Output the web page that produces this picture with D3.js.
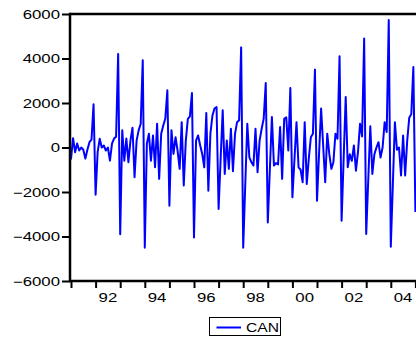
<!DOCTYPE html>
<html>
<head>
<meta charset="utf-8">
<script src="https://cdn.jsdelivr.net/npm/d3@7/dist/d3.min.js"></script>
<style>
  html, body { margin: 0; padding: 0; background: #ffffff; }
  svg { display: block; }
  text { font-family: "Liberation Sans", Arial, sans-serif; fill: #000; }
</style>
</head>
<body>
<div id="chart"></div>
<script>
// ---- data ----
const seriesName = "CAN";
const startYear = 1991; // monthly, starting 1991M01
const canValues = [
  // 1991
  -540, 420, -210, 180, -135, 0, -100, -500, -100, 240, 350, 1940,
  // 1992
  -2120, -210, 390, 0, 90, -135, 0, -590, 170, 400, 480, 4200,
  // 1993
  -3900, 770, -590, 400, -660, 310, 890, -1340, 310, 770, 1070, 3920,
  // 1994
  -4500, 170, 620, -590, 540, -890, 1070, -1410, 620, 990, 1290, 2570,
  // 1995
  -2620, 770, -290, 460, -150, -960, 1140, -1710, 300, 1290, 1400, 2450,
  // 1996
  -4040, 310, 540, 100, -290, -890, 1550, -1940, 620, 1440, 1750, 1820,
  // 1997
  -2760, -500, 1670, -1190, 310, -960, 840, -1070, 600, 1140, 1220, 4500,
  // 1998
  -4500, -1700, 1070, -440, -660, -810, 840, -1110, 310, 840, 1300, 2900,
  // 1999
  -3370, -1000, 1370, -810, -700, -760, 920, -1410, 1290, 1360, -135, 2670,
  // 2000
  -2240, -550, 1140, -890, -1000, -1560, 1140, -1640, -500, 460, 620, 3500,
  // 2001
  -2390, -300, 1750, 100, -1560, 620, -290, -960, -660, 620, 390, 4100,
  // 2002
  -3290, -500, 2270, -890, -300, -600, 90, -1040, -200, 1070, 500, 4900,
  // 2003
  -3890, -1470, 950, -1190, -300, 0, 240, -450, 0, 1140, 700, 5730,
  // 2004
  -4460, -1660, 1140, -100, 0, -1260, 540, -1260, 300, 1340, 1500, 3620,
  // 2005
  -2900
];
const yTicks = [-6000, -4000, -2000, 0, 2000, 4000, 6000];
const xTickYears = d3.range(1991, 2007);
const xLabelYears = [1992, 1994, 1996, 1998, 2000, 2002, 2004];
const xLabels = ["92", "94", "96", "98", "00", "02", "04"];

// ---- layout ----
const W = 416, H = 344;
const mLeft = 70, mTop = 14, mBottom = 281;
const yearPx = 24.6;
const stretch = 1.4;

const svg = d3.select("#chart").append("svg")
  .attr("width", W).attr("height", H);
svg.append("rect").attr("width", W).attr("height", H).attr("fill", "#fff");

const x = d3.scaleLinear().domain([startYear, startYear + 15])
  .range([mLeft + 1, mLeft + 1 + 15 * yearPx]);
const y = d3.scaleLinear().domain([-6000, 6000]).range([mBottom, mTop]);

const data = canValues.map((v, i) => ({ t: startYear + i / 12, v }));

svg.append("clipPath").attr("id", "plotclip")
  .append("rect").attr("x", mLeft).attr("y", mTop)
  .attr("width", W - mLeft + 50).attr("height", mBottom - mTop);

// line
const line = d3.line().x(d => x(d.t)).y(d => y(d.v));
svg.append("path").datum(data)
  .attr("clip-path", "url(#plotclip)")
  .attr("d", line)
  .attr("fill", "none")
  .attr("stroke", "#0000ff")
  .attr("stroke-width", 2)
  .attr("stroke-linejoin", "round");

// y axis
const yAxis = d3.axisLeft(y).tickValues(yTicks).tickSize(8).tickFormat(d3.format("d"));
const gy = svg.append("g").attr("transform", `translate(${mLeft},0)`).call(yAxis);
gy.select(".domain").remove();
gy.selectAll(".tick line").attr("stroke", "#000").attr("stroke-width", 2);
gy.selectAll(".tick text")
  .attr("font-size", 12)
  .attr("font-family", "'Liberation Sans', Arial, sans-serif")
  .attr("fill", "#000")
  .attr("x", -10 / stretch)
  .attr("dy", "0.36em")
  .attr("transform", `scale(${stretch},1)`);

// x axis ticks (year boundaries)
const xAxis = d3.axisBottom(x).tickValues(xTickYears).tickSize(7).tickFormat("");
const gx = svg.append("g").attr("transform", `translate(0,${mBottom})`).call(xAxis);
gx.select(".domain").remove();
gx.selectAll(".tick line").attr("stroke", "#000").attr("stroke-width", 2);

// x labels centered on mid-year
svg.append("g").selectAll("text")
  .data(xLabelYears)
  .join("text")
  .attr("transform", (d) => `translate(${x(d + 0.5)},302) scale(${stretch},1)`)
  .attr("text-anchor", "middle")
  .attr("font-size", 12)
  .text((d, i) => xLabels[i]);

// frame lines
svg.append("line").attr("x1", mLeft).attr("x2", W + 5).attr("y1", mTop).attr("y2", mTop)
  .attr("stroke", "#000").attr("stroke-width", 2.5);
svg.append("line").attr("x1", mLeft).attr("x2", W + 5).attr("y1", mBottom).attr("y2", mBottom)
  .attr("stroke", "#000").attr("stroke-width", 2.5);
svg.append("line").attr("x1", mLeft).attr("x2", mLeft).attr("y1", mTop - 1.25).attr("y2", mBottom + 1.25)
  .attr("stroke", "#000").attr("stroke-width", 2.5);

// legend
const lg = svg.append("g");
lg.append("rect").attr("x", 209.5).attr("y", 317.5).attr("width", 71).attr("height", 18)
  .attr("fill", "#fff").attr("stroke", "#000").attr("stroke-width", 1);
lg.append("line").attr("x1", 216.5).attr("x2", 241).attr("y1", 327.5).attr("y2", 327.5)
  .attr("stroke", "#0000ff").attr("stroke-width", 2);
lg.append("text").attr("transform", "translate(246,332) scale(1.2,1)")
  .attr("font-size", 13).text(seriesName);
</script>
</body>
</html>
